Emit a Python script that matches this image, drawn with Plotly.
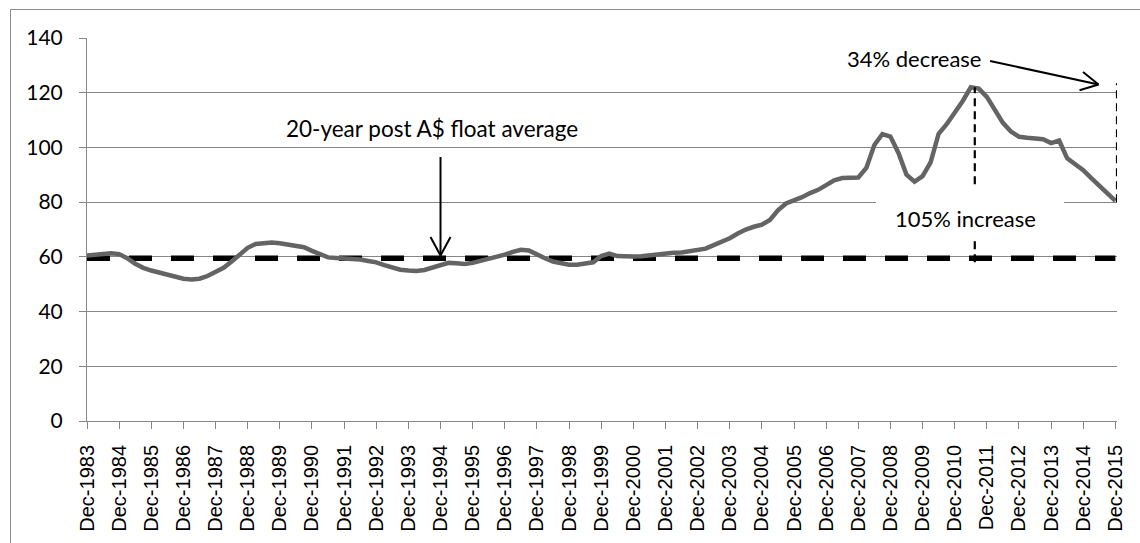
import plotly.graph_objects as go

# Quarterly index, Dec-1983 .. Dec-2015 (one value per quarter)
years = list(range(1983, 2016))
tick_labels = [f"Dec-{y}" for y in years]
index_values = [
    60.5, 60.8, 61.0, 61.3, 61.0, 59.5, 57.5, 56.0, 55.0, 54.2,
    53.5, 52.8, 52.0, 51.7, 52.0, 53.0, 54.3, 56.0, 58.3, 61.0,
    63.3, 64.7, 65.1, 65.2, 65.0, 64.5, 64.4, 63.5, 62.2, 61.0,
    59.8, 59.6, 59.5, 59.3, 59.0, 58.5, 58.0, 57.0, 56.2, 55.3,
    55.0, 54.8, 55.2, 56.2, 57.2, 57.8, 57.7, 57.4, 57.8, 58.5,
    59.3, 60.0, 60.8, 61.8, 62.6, 62.3, 60.8, 59.5, 58.3, 57.6,
    57.1, 57.1, 57.4, 58.0, 60.3, 61.2, 60.3, 60.1, 60.1, 60.2,
    60.6, 61.1, 61.3, 61.5, 61.6, 62.0, 62.5, 63.0, 64.3, 65.5,
    66.8, 68.5, 70.0, 71.0, 71.8, 73.5, 77.0, 79.5, 80.5, 81.8,
    83.3, 84.5, 86.2, 88.0, 88.8, 89.0, 89.0, 92.5, 100.9, 104.9,
    104.0, 98.0, 90.0, 87.5, 89.5, 94.5, 105.0, 108.5, 112.5, 117.0,
    122.0, 121.5, 118.5, 113.5, 109.0, 105.8, 103.9, 103.5, 103.2, 103.0,
    101.6, 102.5, 96.0, 93.9, 91.7, 88.8, 85.9, 83.2, 80.5,
]
float_average = 59.5          # 20-year post A$ float average
peak_label = "34% decrease"
rise_label = "105% increase"
avg_label = "20-year post A$ float average"

quarters = list(range(len(index_values)))
tick_pos = quarters[::4]
peak_q = max(quarters, key=lambda q: index_values[q])
peak_v = index_values[peak_q]
last_q = quarters[-1]
last_v = index_values[-1]

W, H = 1140, 543
M_L, M_R, M_T, M_B = 87, 23, 38, 122
X_MAX, Y_MAX = 128.2, 140
PX_X = (W - M_L - M_R) / X_MAX       # pixels per quarter
PX_Y = (H - M_T - M_B) / Y_MAX       # pixels per index point

GRID = "#868686"
FONT = "Lato"
TICK_FONT = "Liberation Sans"

fig = go.Figure()
fig.add_trace(go.Scatter(
    x=[0, last_q], y=[float_average, float_average], mode="lines",
    line=dict(color="black", width=5.5, dash="23px,19px"),
    hoverinfo="skip", showlegend=False,
))
fig.add_trace(go.Scatter(
    x=quarters, y=index_values, mode="lines",
    line=dict(color="#646464", width=4.5),
    showlegend=False,
))


def open_arrow(x0, y0, x1, y1, dx_px, dy_px):
    """Straight arrow with an open V head; head arms offset in pixels."""
    shapes = [dict(type="line", xref="x", yref="y", x0=x0, y0=y0, x1=x1, y1=y1,
                   line=dict(color="black", width=2), layer="above")]
    for (ax, ay) in (dx_px, dy_px):
        shapes.append(dict(type="line", xref="x", yref="y",
                           x0=x1, y0=y1, x1=x1 + ax / PX_X, y1=y1 + ay / PX_Y,
                           line=dict(color="black", width=2), layer="above"))
    return shapes


shapes = [
    # outer chart frame
    dict(type="rect", xref="paper", yref="paper",
         x0=(10.5 - M_L) / (W - M_L - M_R), x1=1.2,
         y0=-0.6, y1=1 + (M_T - 9.5) / (H - M_T - M_B),
         line=dict(color="#8c8c8c", width=1), fillcolor="rgba(0,0,0,0)", layer="below"),
    # peak marker down to the average
    dict(type="line", xref="x", yref="y", x0=peak_q + 0.5, x1=peak_q + 0.5,
         y0=float_average - 1.5, y1=peak_v,
         line=dict(color="black", width=2.2, dash="8px,5px"), layer="above"),
    # drop from peak to latest value
    dict(type="line", xref="x", yref="y", x0=last_q + 0.2, x1=last_q + 0.2,
         y0=last_v - 0.5, y1=peak_v + 1.5,
         line=dict(color="black", width=2.2, dash="8px,5px"), layer="above"),
    # white box behind the increase label
    dict(type="rect", xref="x", yref="y", x0=98.2, x1=121.6, y0=67.3, y1=85.5,
         line=dict(width=0), fillcolor="white", layer="above"),
]
shapes += open_arrow(44, 96.5, 44, float_average + 1.0, (-10, 18.5), (10, 18.5))
shapes += open_arrow(112.4, 131.6, 125.9, 123.0, (-15.5, 12.5), (-19, -5.7))

annotations = [
    dict(text=peak_label, x=102.9, y=132.4, xref="x", yref="y", showarrow=False,
         font=dict(family=FONT, size=22, color="black")),
    dict(text=rise_label, x=109.3, y=74.0, xref="x", yref="y", showarrow=False,
         font=dict(family=FONT, size=22, color="black")),
    dict(text=avg_label, x=42.9, y=106.8, xref="x", yref="y", showarrow=False,
         font=dict(family=FONT, size=22.5, color="black")),
]

fig.update_layout(
    width=W, height=H,
    margin=dict(l=M_L, r=M_R, t=M_T, b=M_B),
    paper_bgcolor="white", plot_bgcolor="white",
    shapes=shapes, annotations=annotations,
    xaxis=dict(
        range=[0, X_MAX], tickmode="array", tickvals=tick_pos, ticktext=tick_labels,
        tickangle=-90, ticks="outside", ticklen=7, tickcolor=GRID, tickwidth=1,
        showline=True, linecolor=GRID, linewidth=1, showgrid=False, zeroline=False,
        ticklabelstandoff=8,
        tickfont=dict(family=TICK_FONT, size=20, color="black"),
    ),
    yaxis=dict(
        range=[0, Y_MAX], tickvals=[0, 20, 40, 60, 80, 100, 120, 140],
        ticks="outside", ticklen=7, tickcolor=GRID, tickwidth=1,
        showline=True, linecolor=GRID, linewidth=1,
        showgrid=True, gridcolor=GRID, gridwidth=1, zeroline=False,
        ticklabelstandoff=12,
        tickfont=dict(family=FONT, size=21, color="black"),
    ),
)

fig.write_html("out.html")
